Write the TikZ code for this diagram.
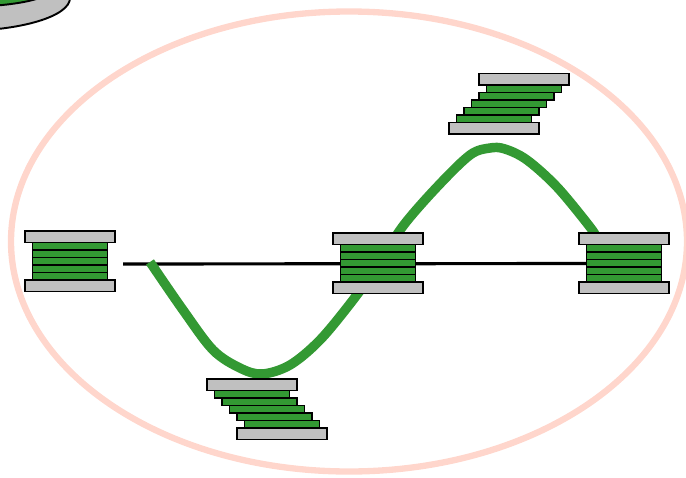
\documentclass[tikz,border=0pt]{standalone}
\begin{document}
\definecolor{layergreen}{RGB}{51,153,51}
\definecolor{plategray}{RGB}{192,192,192}
\definecolor{ringpink}{RGB}{255,214,204}
\begin{tikzpicture}[x=0.02cm,y=-0.02cm,
  plate/.style={draw=black,fill=plategray,line width=1.1pt},
  layer/.style={draw=black,fill=layergreen,line width=1.1pt},
  bond/.style={draw=black,line width=1.8pt},
  wave/.style={draw=layergreen,line width=5.4pt,line cap=butt,line join=round},
  ring/.style={draw=ringpink,line width=3.6pt},
  pics/stack/.style={code={
    \draw[plate] (0,0) rectangle (90,11.5);
    \foreach \i in {0,...,4}
      \draw[layer] ({7.5+#1*\i},{11.5+7.5*\i}) rectangle ++(75,7.5);
    \draw[plate] ({4*#1},49) rectangle ++(90,11.5);
    \coordinate (-w) at (7.5,30.5);
    \coordinate (-e) at (82.5,30.5);
  }}]
\useasboundingbox (0,0) rectangle (686,477);
\clip (0,0) rectangle (686,477);

% outer ring
\draw[ring] (349,241.5) ellipse [x radius=338, y radius=230];

% disc in the corner
\draw[plate] (-40,-2) ellipse [x radius=110, y radius=33];
\draw[layer] (-40,-10) ellipse [x radius=90, y radius=17];

% bond line through the straight stacks
\coordinate (bondstart) at (123,264);
\coordinate (bondend) at (587,263.5);
\draw[bond] (bondstart) -- (bondend);

% green wave
\draw[wave] plot[smooth,tension=0.55] coordinates {
  (150,262) (183,310) (213,350) (240,368) (262,374) (290,365) (320,340)
  (353,300) (378,265) (403,226) (437,187) (470,155) (490,148) (505,149)
  (527,160) (557,187) (590,227) (598,240)};

% stacks
\pic (left) at (25,231) {stack=0};
\pic (mid) at (333,233) {stack=0};
\pic (right) at (579,233) {stack=0};
\pic (up) at (479,73.5) {stack=-7.5};
\pic (down) at (207,379) {stack=7.5};
\end{tikzpicture}
\end{document}
